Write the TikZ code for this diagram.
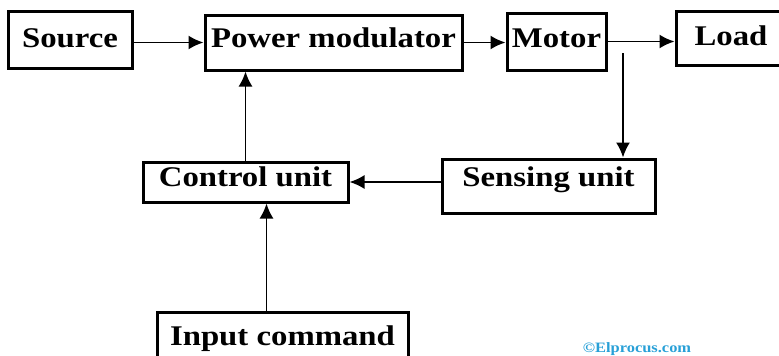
\documentclass[tikz,border=0pt]{standalone}
\usepackage{fontspec}
\setmainfont{Liberation Serif}[FakeStretch=1.15]
\usepackage{tikz}
\usetikzlibrary{arrows.meta}
\definecolor{creditblue}{RGB}{40,160,215}

\begin{document}
\begin{tikzpicture}[x=1pt, y=-1pt, font=\fontsize{28.5}{34}\selectfont\bfseries]
\tikzstyle{unit} = [rectangle, draw=black, line width=3pt, fill=white, inner xsep=0pt, inner ysep=0pt, anchor=base, text centered]
\tikzstyle{arrow} = [line width=1.8pt, -{Latex[length=15pt,width=14pt]}]

\useasboundingbox (0,0) rectangle (779,356);
\clip (0,0) rectangle (779,356);

\node (src) [unit, minimum width=124pt, text height=36pt, text depth=21pt] at (70,47) {Source};
\node (pm) [unit, minimum width=257pt, text height=32pt, text depth=23pt] at (333.5,47) {Power modulator};
\node (motor) [unit, minimum width=99pt, text height=34pt, text depth=23pt] at (556.5,47) {Motor};
\node (load) [unit, minimum width=110pt, text height=34pt, text depth=20pt] at (731,45) {Load};
\node (ctrl) [unit, minimum width=205pt, text height=24pt, text depth=16pt] at (245.5,186) {Control unit};
\node (sense) [unit, minimum width=213pt, text height=27pt, text depth=27pt] at (548.5,186) {Sensing unit};
\node (inp) [unit, minimum width=251pt, text height=33pt, text depth=35pt] at (282.5,345) {Input command};
\node (credit) [anchor=base, text=creditblue, font=\fontsize{14.3}{17}\selectfont\bfseries] at (637,352) {©Elprocus.com};

\coordinate (tap) at (623,53);
\coordinate (cmd) at ([xshift=-16pt]inp.north);

\draw [arrow] (pm.west -| src.east) -- (pm.west);
\draw [arrow] (pm.east) -- (pm.east -| motor.west);
\draw [arrow] (motor.east) -- (motor.east -| load.west);
\draw [arrow] (tap) -- (tap |- sense.north);
\draw [arrow] (ctrl.east -| sense.west) -- (ctrl.east);
\draw [arrow] (ctrl.north) -- (ctrl.north |- pm.south);
\draw [arrow] (cmd) -- (cmd |- ctrl.south);

\end{tikzpicture}
\end{document}
